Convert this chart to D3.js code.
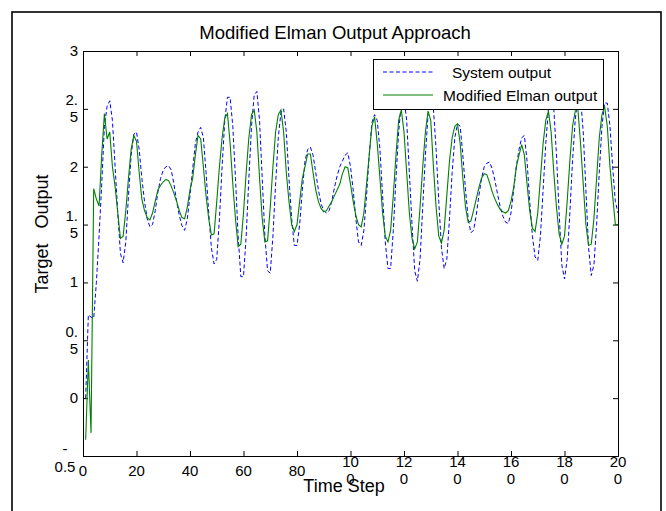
<!DOCTYPE html>
<html>
<head>
<meta charset="utf-8">
<script src="https://cdn.jsdelivr.net/npm/d3@7"></script>
<style>
  body { margin: 0; background: #fff; }
  text { font-family: "Liberation Sans", Arial, sans-serif; fill: #000; }
</style>
</head>
<body>
<svg id="chart" width="666" height="511"></svg>
<script>

// Werte (Zeitschritt 1..200)
let systemOutput = [
  0.00, 0.72, 0.70, 0.69, 1.00, 1.40, 1.85, 2.35, 2.52, 2.57,
  2.40, 2.00, 1.60, 1.25, 1.17, 1.35, 1.75, 2.10, 2.28, 2.30,
  2.15, 1.90, 1.70, 1.55, 1.48, 1.50, 1.62, 1.78, 1.90, 1.97,
  2.00, 2.01, 1.97, 1.85, 1.70, 1.58, 1.49, 1.45, 1.55, 1.75,
  1.98, 2.20, 2.30, 2.34, 2.25, 1.95, 1.60, 1.30, 1.16, 1.20,
  1.55, 2.00, 2.40, 2.60, 2.60, 2.35, 1.90, 1.40, 1.05, 1.05,
  1.40, 1.90, 2.35, 2.62, 2.65, 2.40, 1.90, 1.40, 1.10, 1.08,
  1.40, 1.85, 2.25, 2.47, 2.50, 2.30, 1.90, 1.55, 1.32, 1.32,
  1.50, 1.80, 2.05, 2.15, 2.17, 2.10, 1.95, 1.80, 1.68, 1.62,
  1.60, 1.62, 1.70, 1.82, 1.92, 2.00, 2.05, 2.10, 2.12, 2.00,
  1.80, 1.55, 1.35, 1.32, 1.45, 1.75, 2.10, 2.38, 2.45, 2.40,
  2.15, 1.75, 1.35, 1.12, 1.12, 1.45, 1.90, 2.30, 2.55, 2.60,
  2.40, 1.95, 1.50, 1.10, 1.01, 1.20, 1.65, 2.10, 2.45, 2.55,
  2.50, 2.15, 1.70, 1.30, 1.12, 1.20, 1.55, 1.95, 2.25, 2.37,
  2.35, 2.10, 1.80, 1.55, 1.43, 1.45, 1.58, 1.75, 1.90, 2.00,
  2.03, 2.04, 1.98, 1.88, 1.76, 1.65, 1.57, 1.52, 1.51, 1.60,
  1.80, 2.00, 2.15, 2.25, 2.27, 2.05, 1.70, 1.40, 1.22, 1.19,
  1.40, 1.80, 2.20, 2.50, 2.60, 2.50, 2.10, 1.60, 1.15, 1.03,
  1.20, 1.60, 2.05, 2.40, 2.60, 2.60, 2.30, 1.80, 1.30, 1.06,
  1.15, 1.50, 1.95, 2.35, 2.55, 2.55, 2.35, 2.00, 1.70, 1.60
];

let elmanOutput = [
  -0.36, 0.33, -0.30, 1.81, 1.72, 1.66, 2.10, 2.46, 2.24, 2.30,
  2.00, 1.83, 1.60, 1.38, 1.40, 1.62, 1.90, 2.15, 2.27, 2.22,
  1.95, 1.72, 1.62, 1.56, 1.54, 1.60, 1.70, 1.80, 1.84, 1.87,
  1.89, 1.88, 1.83, 1.77, 1.70, 1.62, 1.56, 1.55, 1.65, 1.80,
  1.90, 2.10, 2.27, 2.24, 2.00, 1.75, 1.55, 1.41, 1.42, 1.70,
  2.00, 2.25, 2.42, 2.46, 2.20, 1.85, 1.55, 1.31, 1.33, 1.60,
  1.95, 2.25, 2.45, 2.49, 2.30, 1.90, 1.55, 1.35, 1.36, 1.65,
  2.00, 2.30, 2.45, 2.49, 2.30, 1.95, 1.70, 1.50, 1.44, 1.50,
  1.70, 1.90, 2.00, 2.11, 2.11, 1.95, 1.80, 1.70, 1.64, 1.61,
  1.62, 1.66, 1.70, 1.75, 1.80, 1.85, 1.94, 2.00, 1.99, 1.85,
  1.70, 1.58, 1.50, 1.48, 1.60, 1.85, 2.10, 2.35, 2.43, 2.20,
  1.90, 1.60, 1.40, 1.35, 1.45, 1.75, 2.10, 2.40, 2.49, 2.30,
  1.95, 1.60, 1.38, 1.29, 1.35, 1.65, 2.00, 2.30, 2.48, 2.40,
  2.00, 1.65, 1.40, 1.34, 1.45, 1.75, 2.05, 2.25, 2.35, 2.37,
  2.20, 1.90, 1.65, 1.52, 1.53, 1.62, 1.72, 1.82, 1.90, 1.94,
  1.93, 1.86, 1.78, 1.72, 1.67, 1.63, 1.61, 1.60, 1.62, 1.70,
  1.82, 2.00, 2.10, 2.19, 2.10, 1.85, 1.62, 1.47, 1.44, 1.60,
  1.90, 2.20, 2.40, 2.48, 2.30, 1.95, 1.65, 1.42, 1.33, 1.40,
  1.70, 2.05, 2.35, 2.48, 2.50, 2.20, 1.85, 1.50, 1.32, 1.33,
  1.55, 1.90, 2.25, 2.45, 2.52, 2.35, 2.00, 1.75, 1.50, 1.50
];

let xTicks = [0, 20, 40, 60, 80, 100, 120, 140, 160, 180, 200];
let xTickLabels = [["0"], ["20"], ["40"], ["60"], ["80"], ["10", "0"], ["12", "0"], ["14", "0"], ["16", "0"], ["18", "0"], ["20", "0"]];
let yTicks = [-0.5, 0, 0.5, 1, 1.5, 2, 2.5, 3];
let yTickLabels = [["-", "0.5"], ["0"], ["0.", "5"], ["1"], ["1.", "5"], ["2"], ["2.", "5"], ["3"]];
let seriesNames = ["System output", "Modified Elman output"];

let svg = d3.select('#chart');

// Rahmen um die ganze Figur
svg.append('rect')
  .attr('x', 12).attr('y', 12)
  .attr('width', 649).attr('height', 530)
  .attr('fill', 'none')
  .attr('stroke', '#000')
  .attr('stroke-width', 1.6);

let plotLeft = 83, plotRight = 618, plotTop = 51, plotBottom = 456;

let x = d3.scaleLinear().domain([0, 200]).range([plotLeft, plotRight]);
let y = d3.scaleLinear().domain([-0.5, 3]).range([plotBottom, plotTop]);

// Achsen mit Ticks nach innen
svg.append('g')
  .attr('transform', 'translate(0,' + plotBottom + ')')
  .call(d3.axisBottom(x).tickValues(xTicks).tickSize(-5).tickFormat(''));
svg.append('g')
  .attr('transform', 'translate(0,' + plotTop + ')')
  .call(d3.axisTop(x).tickValues(xTicks).tickSize(-5).tickFormat(''));
svg.append('g')
  .attr('transform', 'translate(' + plotLeft + ',0)')
  .call(d3.axisLeft(y).tickValues(yTicks).tickSize(-5).tickFormat(''));
svg.append('g')
  .attr('transform', 'translate(' + plotRight + ',0)')
  .call(d3.axisRight(y).tickValues(yTicks).tickSize(-5).tickFormat(''));

svg.selectAll('.domain').attr('stroke', '#000').attr('stroke-width', 1);
svg.selectAll('.tick line').attr('stroke', '#000');

// Tick-Beschriftungen (umgebrochen wie im Original)
xTicks.forEach(function (t, i) {
  let lines = xTickLabels[i];
  let txt = svg.append('text')
    .attr('text-anchor', 'middle')
    .style('font-size', '15px');
  lines.forEach(function (l, j) {
    txt.append('tspan')
      .attr('x', x(t))
      .attr('y', lines.length == 1 ? 476 : 467 + j * 17)
      .text(l);
  });
});

yTicks.forEach(function (t, i) {
  let lines = yTickLabels[i];
  let txt = svg.append('text')
    .attr('text-anchor', t == -0.5 ? 'middle' : 'end')
    .style('font-size', '15px');
  lines.forEach(function (l, j) {
    let yy = lines.length == 1 ? y(t) + 5 : y(t) - 3.5 + j * 17;
    if (t == -0.5) yy = y(t) - 2 + j * 18;
    txt.append('tspan')
      .attr('x', t == -0.5 ? 65 : 78)
      .attr('y', yy)
      .text(l);
  });
});

// Linien
let steps = d3.range(1, 201);

let line = d3.line()
  .x(function (d, i) { return x(steps[i]); })
  .y(function (d) { return y(d); });

svg.append('path')
  .datum(systemOutput)
  .attr('d', line)
  .attr('fill', 'none')
  .attr('stroke', '#0000ff')
  .attr('stroke-width', 1)
  .attr('stroke-dasharray', '4,2.5');

svg.append('path')
  .datum(elmanOutput)
  .attr('d', line)
  .attr('fill', 'none')
  .attr('stroke', '#008000')
  .attr('stroke-width', 1.1);

// Legende
svg.append('rect')
  .attr('x', 373.5).attr('y', 59.5)
  .attr('width', 230).attr('height', 50)
  .attr('fill', '#fff')
  .attr('stroke', '#000')
  .attr('stroke-width', 1);

svg.append('line')
  .attr('x1', 383).attr('x2', 433).attr('y1', 72).attr('y2', 72)
  .attr('stroke', '#0000ff').attr('stroke-dasharray', '4,2.5');
svg.append('line')
  .attr('x1', 383).attr('x2', 433).attr('y1', 95).attr('y2', 95)
  .attr('stroke', '#008000').attr('stroke-width', 1.1);

svg.append('text').attr('x', 452).attr('y', 77.5)
  .style('font-size', '15.5px').text(seriesNames[0]);
svg.append('text').attr('x', 443).attr('y', 100.5)
  .style('font-size', '15.5px').text(seriesNames[1]);

// Titel und Achsentitel
svg.append('text')
  .attr('x', 335).attr('y', 39)
  .attr('text-anchor', 'middle')
  .style('font-size', '18.5px')
  .text('Modified Elman Output Approach');

svg.append('text')
  .attr('x', 344).attr('y', 492)
  .attr('text-anchor', 'middle')
  .style('font-size', '18px')
  .text('Time Step');

svg.append('text')
  .attr('transform', 'translate(48,234) rotate(-90)')
  .attr('text-anchor', 'middle')
  .attr('xml:space', 'preserve')
  .style('font-size', '18px')
  .style('white-space', 'pre')
  .text('Target   Output');

</script>
</body>
</html>
